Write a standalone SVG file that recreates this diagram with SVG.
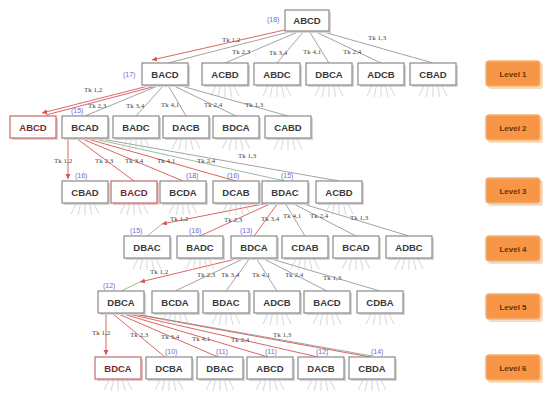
<svg xmlns="http://www.w3.org/2000/svg" xmlns:xlink="http://www.w3.org/1999/xlink" width="555" height="396" viewBox="0 0 555 396">
<style>
.bx{fill:#fff;stroke:#8a8a8a;stroke-width:1.2}
.sh{fill:#d6d6d6}
.tb{fill:#fff;stroke:#c26a6a;stroke-width:1.2}
.tsh{fill:#e9c8c8}
.nt{font-family:"Liberation Sans",Arial,sans-serif;font-size:9.5px;font-weight:bold;fill:#3a3a3a;text-anchor:middle}
.rt{fill:#7a2a2a}
.lb{font-family:"Liberation Serif","Times New Roman",serif;font-size:7px;fill:#444}
.bl{font-family:"Liberation Sans",Arial,sans-serif;font-size:7px;fill:#6b6bd6}
.c{stroke:#8c8c8c;stroke-width:0.8;fill:none}
.r{stroke:#d9534f;stroke-width:0.9;fill:none}
.g{stroke:#7fae7f;stroke-width:0.8;fill:none}
.fan{stroke:#c4c4c4;stroke-width:0.7;fill:none}
.lv{fill:#f79646;stroke:#f4b37a;stroke-width:1.5}
.lvs{fill:#f3dcc4}
.lt{font-family:"Liberation Sans",Arial,sans-serif;font-size:8px;font-weight:bold;fill:#6b3200;text-anchor:middle}
</style>
<defs>
<marker id="ar" markerWidth="6" markerHeight="6" refX="5" refY="3" orient="auto" markerUnits="userSpaceOnUse"><path d="M0,0.5 L5,3 L0,5.5 z" fill="#d9534f"/></marker>
<path id="fan" class="fan" d="M-9,0 l-5,10 M-4.5,0 l-2.5,11 M0,0 l0,11 M4.5,0 l2.5,11 M9,0 l5,10"/>
</defs>
<rect width="555" height="396" fill="#fff"/>

<g id="connectors">
<!-- root -> level1 -->
<line class="c" x1="293" y1="31" x2="168" y2="63"/>
<line class="r" x1="289" y1="29" x2="152" y2="60" marker-end="url(#ar)"/>
<line class="c" x1="300" y1="31" x2="225" y2="63"/>
<line class="c" x1="304" y1="31" x2="277" y2="63"/>
<line class="c" x1="309" y1="31" x2="329" y2="63"/>
<line class="c" x1="314" y1="31" x2="381" y2="63"/>
<line class="c" x1="320" y1="31" x2="433" y2="63"/>
<text class="lb" x="222" y="42">Tk 1,2</text>
<text class="lb" x="232" y="54">Tk 2,3</text>
<text class="lb" x="269" y="55">Tk 3,4</text>
<text class="lb" x="303" y="54">Tk 4,1</text>
<text class="lb" x="343" y="54">Tk 2,4</text>
<text class="lb" x="368" y="40">Tk 1,3</text>
<!-- BACD -> level2 -->
<line class="r" x1="152" y1="85" x2="42" y2="113" marker-end="url(#ar)"/>
<line class="r" x1="156" y1="86" x2="46" y2="115"/>
<line class="c" x1="160" y1="85" x2="85" y2="116"/>
<line class="c" x1="164" y1="85" x2="136" y2="116"/>
<line class="c" x1="168" y1="85" x2="186" y2="116"/>
<line class="c" x1="172" y1="85" x2="236" y2="116"/>
<line class="c" x1="178" y1="85" x2="288" y2="116"/>
<text class="lb" x="84" y="92">Tk 1,2</text>
<text class="lb" x="88" y="108">Tk 2,3</text>
<text class="lb" x="126" y="108">Tk 3,4</text>
<text class="lb" x="161" y="107">Tk 4,1</text>
<text class="lb" x="204" y="107">Tk 2,4</text>
<text class="lb" x="245" y="107">Tk 1,3</text>
<!-- BCAD -> level3 -->
<line class="r" x1="68" y1="138" x2="68" y2="179" marker-end="url(#ar)"/>
<line class="r" x1="76" y1="138" x2="134" y2="181"/>
<line class="r" x1="80" y1="138" x2="183" y2="181"/>
<line class="r" x1="84" y1="138" x2="236" y2="181"/>
<line class="g" x1="90" y1="138" x2="285" y2="181"/>
<line class="c" x1="96" y1="138" x2="339" y2="181"/>
<text class="lb" x="54" y="163">Tk 1,2</text>
<text class="lb" x="95" y="163">Tk 2,3</text>
<text class="lb" x="125" y="163">Tk 3,4</text>
<text class="lb" x="157" y="163">Tk 4,1</text>
<text class="lb" x="197" y="163">Tk 2,4</text>
<text class="lb" x="238" y="158">Tk 1,3</text>
<!-- BDAC -> level4 -->
<line class="r" x1="268" y1="203" x2="162" y2="224" marker-end="url(#ar)"/>
<line class="g" x1="162" y1="224" x2="147" y2="236"/>
<line class="r" x1="272" y1="203" x2="200" y2="236"/>
<line class="r" x1="278" y1="203" x2="254" y2="236"/>
<line class="c" x1="285" y1="203" x2="305" y2="236"/>
<line class="c" x1="292" y1="203" x2="356" y2="236"/>
<line class="c" x1="300" y1="203" x2="409" y2="236"/>
<text class="lb" x="170" y="221">Tk 1,2</text>
<text class="lb" x="224" y="222">Tk 2,3</text>
<text class="lb" x="261" y="221">Tk 3,4</text>
<text class="lb" x="283" y="218">Tk 4,1</text>
<text class="lb" x="310" y="218">Tk 2,4</text>
<text class="lb" x="350" y="220">Tk 1,3</text>
<!-- BDCA -> level5 -->
<line class="r" x1="240" y1="258" x2="140" y2="282" marker-end="url(#ar)"/>
<line class="g" x1="140" y1="282" x2="121" y2="291"/>
<line class="c" x1="245" y1="258" x2="175" y2="291"/>
<line class="c" x1="250" y1="258" x2="226" y2="291"/>
<line class="c" x1="256" y1="258" x2="277" y2="291"/>
<line class="c" x1="262" y1="258" x2="327" y2="291"/>
<line class="c" x1="268" y1="258" x2="380" y2="291"/>
<text class="lb" x="150" y="274">Tk 1,2</text>
<text class="lb" x="197" y="277">Tk 2,3</text>
<text class="lb" x="221" y="277">Tk 3,4</text>
<text class="lb" x="252" y="277">Tk 4,1</text>
<text class="lb" x="285" y="277">Tk 2,4</text>
<text class="lb" x="323" y="280">Tk 1,3</text>
<!-- DBCA -> level6 -->
<line class="r" x1="106" y1="313" x2="106" y2="355" marker-end="url(#ar)"/>
<line class="r" x1="112" y1="313" x2="165" y2="357"/>
<line class="r" x1="116" y1="313" x2="218" y2="357"/>
<line class="r" x1="120" y1="313" x2="268" y2="357"/>
<line class="r" x1="124" y1="313" x2="318" y2="357"/>
<line class="r" x1="128" y1="313" x2="370" y2="357"/>
<line class="c" x1="130" y1="313" x2="372" y2="356"/>
<text class="lb" x="92" y="335">Tk 1,2</text>
<text class="lb" x="130" y="337">Tk 2,3</text>
<text class="lb" x="161" y="339">Tk 3,4</text>
<text class="lb" x="192" y="341">Tk 4,1</text>
<text class="lb" x="231" y="342">Tk 2,4</text>
<text class="lb" x="273" y="337">Tk 1,3</text>
</g>

<g id="n-root"><rect class="sh" x="287" y="12" width="44" height="21"/><rect class="bx" x="285" y="10" width="44" height="21"/><text class="nt" x="307" y="24">ABCD</text><text class="bl" x="267" y="22">(18)</text></g>

<g id="n1-BACD"><rect class="sh" x="144" y="65" width="46" height="22"/><rect class="bx" x="142" y="63" width="46" height="22"/><text class="nt" x="165" y="78">BACD</text><text class="bl" x="123" y="77">(17)</text></g>
<g id="n1-ACBD"><rect class="sh" x="204" y="65" width="46" height="22"/><rect class="bx" x="202" y="63" width="46" height="22"/><text class="nt" x="225" y="78">ACBD</text><use href="#fan" x="225" y="86"/></g>
<g id="n1-ABDC"><rect class="sh" x="256" y="65" width="46" height="22"/><rect class="bx" x="254" y="63" width="46" height="22"/><text class="nt" x="277" y="78">ABDC</text><use href="#fan" x="277" y="86"/></g>
<g id="n1-DBCA"><rect class="sh" x="308" y="65" width="46" height="22"/><rect class="bx" x="306" y="63" width="46" height="22"/><text class="nt" x="329" y="78">DBCA</text><use href="#fan" x="329" y="86"/></g>
<g id="n1-ADCB"><rect class="sh" x="360" y="65" width="46" height="22"/><rect class="bx" x="358" y="63" width="46" height="22"/><text class="nt" x="381" y="78">ADCB</text><use href="#fan" x="381" y="86"/></g>
<g id="n1-CBAD"><rect class="sh" x="412" y="65" width="46" height="22"/><rect class="bx" x="410" y="63" width="46" height="22"/><text class="nt" x="433" y="78">CBAD</text><use href="#fan" x="433" y="86"/></g>

<g id="n2-ABCD"><rect class="tsh" x="12" y="118" width="46" height="22"/><rect class="tb" x="10" y="116" width="46" height="22"/><text class="nt rt" x="33" y="131">ABCD</text></g>
<g id="n2-BCAD"><rect class="sh" x="64" y="118" width="46" height="22"/><rect class="bx" x="62" y="116" width="46" height="22"/><text class="nt" x="85" y="131">BCAD</text><text class="bl" x="71" y="113">(15)</text></g>
<g id="n2-BADC"><rect class="sh" x="115" y="118" width="46" height="22"/><rect class="bx" x="113" y="116" width="46" height="22"/><text class="nt" x="136" y="131">BADC</text><use href="#fan" x="136" y="139"/></g>
<g id="n2-DACB"><rect class="sh" x="165" y="118" width="46" height="22"/><rect class="bx" x="163" y="116" width="46" height="22"/><text class="nt" x="186" y="131">DACB</text><use href="#fan" x="186" y="139"/></g>
<g id="n2-BDCA"><rect class="sh" x="215" y="118" width="46" height="22"/><rect class="bx" x="213" y="116" width="46" height="22"/><text class="nt" x="236" y="131">BDCA</text><use href="#fan" x="236" y="139"/></g>
<g id="n2-CABD"><rect class="sh" x="267" y="118" width="46" height="22"/><rect class="bx" x="265" y="116" width="46" height="22"/><text class="nt" x="288" y="131">CABD</text><use href="#fan" x="288" y="139"/></g>

<g id="n3-CBAD"><rect class="sh" x="64" y="183" width="46" height="22"/><rect class="bx" x="62" y="181" width="46" height="22"/><text class="nt" x="85" y="196">CBAD</text><text class="bl" x="75" y="178">(16)</text><use href="#fan" x="85" y="204"/></g>
<g id="n3-BACD"><rect class="tsh" x="113" y="183" width="46" height="22"/><rect class="tb" x="111" y="181" width="46" height="22"/><text class="nt rt" x="134" y="196">BACD</text><use href="#fan" x="134" y="204"/></g>
<g id="n3-BCDA"><rect class="sh" x="162" y="183" width="46" height="22"/><rect class="bx" x="160" y="181" width="46" height="22"/><text class="nt" x="183" y="196">BCDA</text><text class="bl" x="186" y="178">(18)</text><use href="#fan" x="183" y="204"/></g>
<g id="n3-DCAB"><rect class="sh" x="215" y="183" width="46" height="22"/><rect class="bx" x="213" y="181" width="46" height="22"/><text class="nt" x="236" y="196">DCAB</text><text class="bl" x="227" y="178">(16)</text><use href="#fan" x="236" y="204"/></g>
<g id="n3-BDAC"><rect class="sh" x="264" y="183" width="46" height="22"/><rect class="bx" x="262" y="181" width="46" height="22"/><text class="nt" x="285" y="196">BDAC</text><text class="bl" x="281" y="178">(15)</text></g>
<g id="n3-ACBD"><rect class="sh" x="318" y="183" width="46" height="22"/><rect class="bx" x="316" y="181" width="46" height="22"/><text class="nt" x="339" y="196">ACBD</text><use href="#fan" x="339" y="204"/></g>

<g id="n4-DBAC"><rect class="sh" x="126" y="238" width="46" height="22"/><rect class="bx" x="124" y="236" width="46" height="22"/><text class="nt" x="147" y="251">DBAC</text><text class="bl" x="130" y="233">(15)</text><use href="#fan" x="147" y="259"/></g>
<g id="n4-BADC"><rect class="sh" x="179" y="238" width="46" height="22"/><rect class="bx" x="177" y="236" width="46" height="22"/><text class="nt" x="200" y="251">BADC</text><text class="bl" x="189" y="233">(16)</text><use href="#fan" x="200" y="259"/></g>
<g id="n4-BDCA"><rect class="sh" x="233" y="238" width="46" height="22"/><rect class="bx" x="231" y="236" width="46" height="22"/><text class="nt" x="254" y="251">BDCA</text><text class="bl" x="240" y="233">(13)</text></g>
<g id="n4-CDAB"><rect class="sh" x="284" y="238" width="46" height="22"/><rect class="bx" x="282" y="236" width="46" height="22"/><text class="nt" x="305" y="251">CDAB</text><use href="#fan" x="305" y="259"/></g>
<g id="n4-BCAD"><rect class="sh" x="335" y="238" width="46" height="22"/><rect class="bx" x="333" y="236" width="46" height="22"/><text class="nt" x="356" y="251">BCAD</text><use href="#fan" x="356" y="259"/></g>
<g id="n4-ADBC"><rect class="sh" x="388" y="238" width="46" height="22"/><rect class="bx" x="386" y="236" width="46" height="22"/><text class="nt" x="409" y="251">ADBC</text><use href="#fan" x="409" y="259"/></g>

<g id="n5-DBCA"><rect class="sh" x="100" y="293" width="46" height="22"/><rect class="bx" x="98" y="291" width="46" height="22"/><text class="nt" x="121" y="306">DBCA</text><text class="bl" x="103" y="288">(12)</text></g>
<g id="n5-BCDA"><rect class="sh" x="154" y="293" width="46" height="22"/><rect class="bx" x="152" y="291" width="46" height="22"/><text class="nt" x="175" y="306">BCDA</text><use href="#fan" x="175" y="314"/></g>
<g id="n5-BDAC"><rect class="sh" x="205" y="293" width="46" height="22"/><rect class="bx" x="203" y="291" width="46" height="22"/><text class="nt" x="226" y="306">BDAC</text><use href="#fan" x="226" y="314"/></g>
<g id="n5-ADCB"><rect class="sh" x="256" y="293" width="46" height="22"/><rect class="bx" x="254" y="291" width="46" height="22"/><text class="nt" x="277" y="306">ADCB</text><use href="#fan" x="277" y="314"/></g>
<g id="n5-BACD"><rect class="sh" x="306" y="293" width="46" height="22"/><rect class="bx" x="304" y="291" width="46" height="22"/><text class="nt" x="327" y="306">BACD</text><use href="#fan" x="327" y="314"/></g>
<g id="n5-CDBA"><rect class="sh" x="359" y="293" width="46" height="22"/><rect class="bx" x="357" y="291" width="46" height="22"/><text class="nt" x="380" y="306">CDBA</text><use href="#fan" x="380" y="314"/></g>

<g id="n6-BDCA"><rect class="tsh" x="97" y="359" width="46" height="22"/><rect class="tb" x="95" y="357" width="46" height="22"/><text class="nt rt" x="118" y="372">BDCA</text><use href="#fan" x="118" y="380"/></g>
<g id="n6-DCBA"><rect class="sh" x="148" y="359" width="46" height="22"/><rect class="bx" x="146" y="357" width="46" height="22"/><text class="nt" x="169" y="372">DCBA</text><text class="bl" x="165" y="354">(10)</text><use href="#fan" x="169" y="380"/></g>
<g id="n6-DBAC"><rect class="sh" x="199" y="359" width="46" height="22"/><rect class="bx" x="197" y="357" width="46" height="22"/><text class="nt" x="220" y="372">DBAC</text><text class="bl" x="216" y="354">(11)</text><use href="#fan" x="220" y="380"/></g>
<g id="n6-ABCD"><rect class="sh" x="249" y="359" width="46" height="22"/><rect class="bx" x="247" y="357" width="46" height="22"/><text class="nt" x="270" y="372">ABCD</text><text class="bl" x="265" y="354">(11)</text><use href="#fan" x="270" y="380"/></g>
<g id="n6-DACB"><rect class="sh" x="300" y="359" width="46" height="22"/><rect class="bx" x="298" y="357" width="46" height="22"/><text class="nt" x="321" y="372">DACB</text><text class="bl" x="316" y="354">(12)</text><use href="#fan" x="321" y="380"/></g>
<g id="n6-CBDA"><rect class="sh" x="351" y="359" width="46" height="22"/><rect class="bx" x="349" y="357" width="46" height="22"/><text class="nt" x="372" y="372">CBDA</text><text class="bl" x="371" y="354">(14)</text><use href="#fan" x="372" y="380"/></g>

<g id="level1"><rect class="lvs" x="488" y="63" width="55" height="26" rx="3"/><rect class="lv" x="486" y="61" width="54" height="25" rx="3"/><text class="lt" x="513" y="77">Level 1</text></g>
<g id="level2"><rect class="lvs" x="488" y="117" width="55" height="26" rx="3"/><rect class="lv" x="486" y="115" width="54" height="25" rx="3"/><text class="lt" x="513" y="131">Level 2</text></g>
<g id="level3"><rect class="lvs" x="488" y="180" width="55" height="26" rx="3"/><rect class="lv" x="486" y="178" width="54" height="25" rx="3"/><text class="lt" x="513" y="194">Level 3</text></g>
<g id="level4"><rect class="lvs" x="488" y="238" width="55" height="26" rx="3"/><rect class="lv" x="486" y="236" width="54" height="25" rx="3"/><text class="lt" x="513" y="252">Level 4</text></g>
<g id="level5"><rect class="lvs" x="488" y="296" width="55" height="26" rx="3"/><rect class="lv" x="486" y="294" width="54" height="25" rx="3"/><text class="lt" x="513" y="310">Level 5</text></g>
<g id="level6"><rect class="lvs" x="488" y="357" width="55" height="26" rx="3"/><rect class="lv" x="486" y="355" width="54" height="25" rx="3"/><text class="lt" x="513" y="371">Level 6</text></g>
</svg>
